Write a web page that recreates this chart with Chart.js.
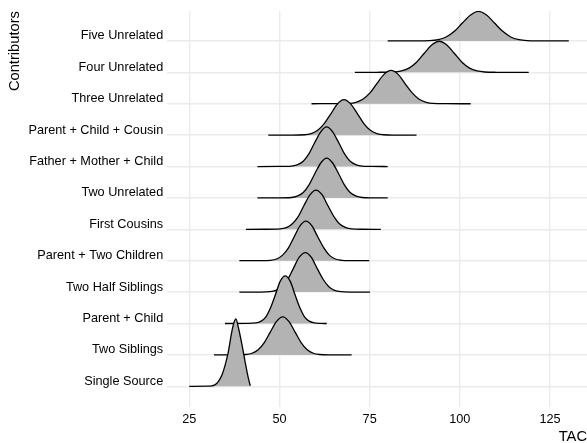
<!DOCTYPE html>
<html>
<head>
<meta charset="utf-8">
<script src="https://cdn.jsdelivr.net/npm/chart.js@4"></script>
<style>
html,body{margin:0;padding:0;background:#fff;}
#wrap{width:587px;height:443px;}
</style>
</head>
<body>
<div id="wrap"><canvas id="c" width="587" height="443"></canvas></div>
<script>
// Categories, bottom to top
const categories = ["Single Source","Two Siblings","Parent + Child","Two Half Siblings","Parent + Two Children","First Cousins","Two Unrelated","Father + Mother + Child","Parent + Child + Cousin","Three Unrelated","Four Unrelated","Five Unrelated"];
const xTicks = [25, 50, 75, 100, 125];

// Ridge outlines: TAC values and density heights (in row units)
const singleSourceX = [25, 30, 31.2, 32.1, 33.0, 34.0, 35.0, 35.8, 36.7, 37.4, 37.95, 38.6, 39.5, 40.7, 41.4, 41.85, 42.0];
const singleSourceH = [0, 0.003, 0.01, 0.045, 0.14, 0.34, 0.7, 1.08, 1.68, 2.03, 2.15, 1.88, 1.39, 0.65, 0.25, 0.05, 0.02];
const twoSiblingsX = [31.85, 38, 40.7, 42.4, 44.1, 45.8, 47.5, 49.2, 50.9, 52.6, 54.3, 56.0, 57.7, 59.4, 61.1, 64, 70.0];
const twoSiblingsH = [0, 0.002, 0.013, 0.053, 0.163, 0.393, 0.734, 1.067, 1.21, 1.067, 0.734, 0.393, 0.163, 0.053, 0.013, 0.002, 0];
const parentChildX = [34.9, 41, 43.5, 44.8, 46.2, 47.5, 48.9, 50.2, 51.6, 53.0, 54.3, 55.7, 57.0, 58.4, 59.7, 61.5, 63.1];
const parentChildH = [0, 0.002, 0.017, 0.067, 0.205, 0.494, 0.923, 1.341, 1.52, 1.341, 0.923, 0.494, 0.205, 0.067, 0.017, 0.003, 0];
const twoHalfSibX = [38.9, 44.5, 47.4, 49.0, 50.6, 52.3, 53.9, 55.5, 57.2, 58.8, 60.4, 62.1, 63.7, 65.3, 67.0, 70, 75.1];
const twoHalfSibH = [0, 0.002, 0.014, 0.055, 0.170, 0.410, 0.765, 1.111, 1.26, 1.111, 0.765, 0.410, 0.170, 0.055, 0.014, 0.002, 0];
const parentTwoChildX = [38.9, 44.5, 47.5, 49.2, 50.8, 52.5, 54.1, 55.7, 57.35, 59.0, 60.6, 62.3, 63.9, 65.5, 67.2, 70, 74.9];
const parentTwoChildH = [0, 0.002, 0.014, 0.055, 0.170, 0.410, 0.765, 1.111, 1.26, 1.111, 0.765, 0.410, 0.170, 0.055, 0.014, 0.002, 0];
const firstCousinsX = [40.7, 46, 50.2, 51.9, 53.5, 55.2, 56.8, 58.5, 60.1, 61.8, 63.4, 65.1, 66.7, 68.4, 70.0, 73, 78.1];
const firstCousinsH = [0, 0.002, 0.014, 0.055, 0.169, 0.406, 0.759, 1.103, 1.25, 1.103, 0.759, 0.406, 0.169, 0.055, 0.014, 0.002, 0];
const twoUnrelatedX = [43.9, 49.5, 53.3, 54.9, 56.6, 58.2, 59.8, 61.5, 63.1, 64.7, 66.4, 68.0, 69.6, 71.3, 72.9, 75.5, 80.0];
const twoUnrelatedH = [0, 0.002, 0.014, 0.056, 0.171, 0.413, 0.771, 1.120, 1.27, 1.120, 0.771, 0.413, 0.171, 0.056, 0.014, 0.002, 0];
const fatherMotherChildX = [43.9, 49.5, 53.3, 54.9, 56.6, 58.2, 59.8, 61.5, 63.1, 64.7, 66.4, 68.0, 69.6, 71.3, 72.9, 75.5, 80.0];
const fatherMotherChildH = [0, 0.002, 0.014, 0.055, 0.170, 0.410, 0.765, 1.111, 1.26, 1.111, 0.765, 0.410, 0.170, 0.055, 0.014, 0.002, 0];
const parentChildCousinX = [46.9, 53, 57.0, 58.8, 60.6, 62.4, 64.3, 66.1, 67.9, 69.7, 71.6, 73.4, 75.2, 77.0, 78.9, 82, 88.0];
const parentChildCousinH = [0, 0.002, 0.012, 0.050, 0.153, 0.367, 0.686, 0.997, 1.13, 0.997, 0.686, 0.367, 0.153, 0.050, 0.012, 0.002, 0];
const threeUnrelatedX = [58.9, 65, 69.2, 71.2, 73.1, 75.1, 77.0, 79.0, 80.9, 82.9, 84.8, 86.8, 88.7, 90.7, 92.6, 96, 103.0];
const threeUnrelatedH = [0, 0.002, 0.012, 0.047, 0.143, 0.345, 0.643, 0.935, 1.06, 0.935, 0.643, 0.345, 0.143, 0.047, 0.012, 0.002, 0];
const fourUnrelatedX = [70.9, 77, 81.7, 83.8, 85.9, 88.0, 90.1, 92.2, 94.3, 96.4, 98.5, 100.6, 102.7, 104.8, 106.9, 110, 119.1];
const fourUnrelatedH = [0, 0.002, 0.011, 0.044, 0.134, 0.322, 0.601, 0.873, 0.99, 0.873, 0.601, 0.322, 0.134, 0.044, 0.011, 0.002, 0];
const fiveUnrelatedX = [80, 87, 91.7, 94.0, 96.2, 98.5, 100.7, 103.0, 105.1, 107.4, 109.6, 111.9, 114.1, 116.4, 118.6, 122, 130.2];
const fiveUnrelatedH = [0, 0.002, 0.010, 0.041, 0.127, 0.306, 0.571, 0.829, 0.94, 0.829, 0.571, 0.306, 0.127, 0.041, 0.010, 0.002, 0];

const ridgeXs = [singleSourceX, twoSiblingsX, parentChildX, twoHalfSibX, parentTwoChildX, firstCousinsX, twoUnrelatedX, fatherMotherChildX, parentChildCousinX, threeUnrelatedX, fourUnrelatedX, fiveUnrelatedX];
const ridgeHs = [singleSourceH, twoSiblingsH, parentChildH, twoHalfSibH, parentTwoChildH, firstCousinsH, twoUnrelatedH, fatherMotherChildH, parentChildCousinH, threeUnrelatedH, fourUnrelatedH, fiveUnrelatedH];

const FONT = '"Liberation Sans", Arial, Helvetica, sans-serif';

// dataset 0 (bottom ridge) is drawn last, so lower ridges overlap upper ones
const datasets = categories.map((name, i) => ({
  label: name,
  data: ridgeXs[i].map((x, j) => ({ x: x, y: i + ridgeHs[i][j] })),
  borderColor: '#000000',
  borderWidth: 1.3,
  backgroundColor: '#B3B3B3',
  fill: { value: i },
  pointRadius: 0,
  pointHoverRadius: 0,
  cubicInterpolationMode: 'monotone'
}));

new Chart(document.getElementById('c'), {
  type: 'line',
  data: { datasets: datasets },
  options: {
    responsive: false,
    animation: false,
    events: [],
    layout: { padding: { top: 9, left: 0, right: 0, bottom: 0 } },
    plugins: { legend: { display: false }, tooltip: { enabled: false } },
    scales: {
      x: {
        type: 'linear',
        min: 18.75,
        max: 135.25,
        afterBuildTicks: (s) => { s.ticks = xTicks.map(v => ({ value: v })); },
        afterFit: (s) => { s.height = 36.3; },
        border: { display: false },
        grid: { color: '#EBEBEB', lineWidth: 1.4, drawTicks: false },
        ticks: { padding: 5, color: '#000', font: { family: FONT, size: 12.7 } },
        title: {
          display: true, text: 'TAC', align: 'end', color: '#000',
          font: { family: FONT, size: 14.7, lineHeight: 0.8 }, padding: 0
        }
      },
      y: {
        type: 'linear',
        min: -0.65,
        max: 11.95,
        afterBuildTicks: (s) => { s.ticks = categories.map((c, i) => ({ value: i })); },
        afterFit: (s) => { s.width = 166.7; },
        border: { display: false },
        grid: { color: '#EBEBEB', lineWidth: 1.4, drawTicks: false },
        ticks: {
          padding: 3.5, labelOffset: -5, color: '#000',
          font: { family: FONT, size: 12.7 },
          callback: (v) => categories[v] !== undefined ? categories[v] : ''
        },
        title: {
          display: true, text: 'Contributors', align: 'end', color: '#000',
          font: { family: FONT, size: 14.7, lineHeight: 1.2 }, padding: { top: 6, bottom: 0 }
        }
      }
    }
  }
});
</script>
</body>
</html>
